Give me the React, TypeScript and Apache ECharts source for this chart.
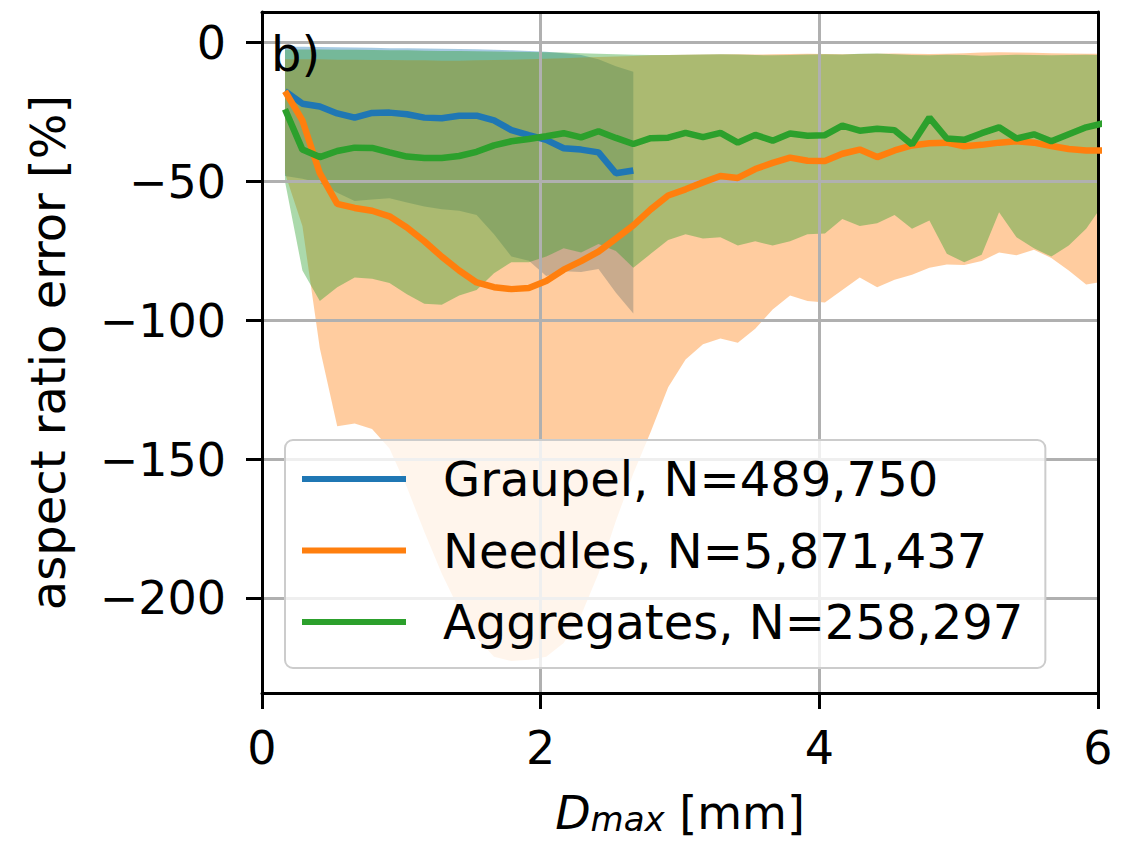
import React, { useEffect, useRef } from "react";
import * as echarts from "echarts";

// D_max bin centres [mm]
const X_MM = [
  0.165, 0.29, 0.415, 0.54, 0.665, 0.79, 0.915, 1.04, 1.165, 1.29,
  1.415, 1.54, 1.665, 1.79, 1.915, 2.04, 2.165, 2.29, 2.415, 2.54,
  2.665, 2.79, 2.915, 3.04, 3.165, 3.29, 3.415, 3.54, 3.665, 3.79,
  3.915, 4.04, 4.165, 4.29, 4.415, 4.54, 4.665, 4.79, 4.915, 5.04,
  5.165, 5.29, 5.415, 5.54, 5.665, 5.79, 5.915, 6.04,
];

// Graupel (first 21 bins)
const GRAUPEL_MED = [-17.5, -22, -23, -25.5, -27, -25.3, -25.2, -25.8, -27, -27.2, -26.3, -26.3, -28, -31.5, -33.3, -35, -38, -38.5, -39.5, -47, -46];
const GRAUPEL_LO = [-48, -49, -50.5, -54, -57, -56.5, -56, -57.5, -59, -60, -60.5, -62, -69, -77, -78.5, -84, -82.3, -82.5, -81.5, -90, -97.5];
const GRAUPEL_HI = [-1.5, -1.5, -1.6, -1.7, -1.8, -1.9, -2, -2, -2.1, -2.2, -2.3, -2.4, -2.6, -2.8, -3, -3.3, -3.8, -4.5, -6, -8.5, -10.5];

// Needles
const NEEDLES_MED = [-17.5, -28, -47, -58, -59.5, -60.5, -62.5, -66.5, -71.5, -77, -82, -86.3, -88, -88.7, -88.3, -85.8, -81.7, -78.6, -75.2, -70.5, -65.8, -60, -55, -52.8, -50.3, -48, -48.7, -45.5, -43.3, -41.4, -42.5, -42.6, -40, -38.5, -41.2, -38.8, -37, -36.2, -36, -37.3, -36.8, -36, -35.5, -36, -37.2, -38.3, -38.8, -38.8];
const NEEDLES_LO = [-47, -66, -110, -138, -137, -139, -146, -160, -176, -191, -204, -214, -221, -222.5, -222, -221, -216, -206, -191, -172, -155, -140, -124, -114, -108.5, -106.5, -108, -103, -96, -91, -93, -93.5, -89, -84.5, -88, -85.3, -83.5, -81, -79.8, -80, -78.6, -75.5, -76.5, -74.5, -77.5, -82, -87, -86];
const NEEDLES_HI = [-6, -6, -6, -6.2, -6.2, -6.3, -6.3, -6.4, -6.4, -6.5, -6.5, -6.4, -6.3, -6.2, -6, -5.8, -5.6, -5.4, -5.2, -5, -4.8, -4.6, -4.5, -4.4, -4.3, -4.2, -4.2, -4.3, -4.2, -4.1, -4, -4.1, -4.2, -4.1, -4, -3.9, -4, -4.1, -4, -3.8, -3.6, -3.5, -3.6, -3.7, -3.8, -3.9, -4, -4];

// Aggregates
const AGG_MED = [-24, -38.5, -41.2, -39, -37.8, -37.9, -39.5, -41, -41.5, -41.5, -40.8, -39.3, -37, -35.5, -34.7, -33.7, -32.6, -34.1, -31.9, -34.3, -36.5, -34.4, -34.2, -32.5, -34, -32.5, -36, -33.2, -35.3, -32.7, -33.5, -33.3, -29.9, -31.7, -31, -31.5, -36.7, -27, -34.5, -35, -32.6, -30.5, -34.5, -33, -35.5, -33, -30.5, -29];
const AGG_LO = [-50, -82, -93, -88, -84.5, -85, -86.5, -90.5, -94, -94.3, -91, -89, -83, -79, -79, -77, -74, -75.5, -72.5, -75, -81, -76, -71, -69, -70.5, -70, -73, -71.5, -73, -71.5, -69, -68.7, -63.5, -66, -65, -62, -67, -64, -76, -79, -76.3, -61, -70, -74, -77, -73, -67, -58];
const AGG_HI = [-2.5, -2.5, -2.5, -2.6, -2.6, -2.7, -2.8, -2.8, -2.9, -3, -3, -3.1, -3.2, -3.3, -3.4, -3.5, -3.6, -3.8, -4, -4.2, -4.4, -4.5, -4.5, -4.4, -4.3, -4.2, -4.3, -4.5, -4.6, -4.5, -4.3, -4.2, -4.3, -4, -3.9, -4.2, -4.5, -4.6, -4.4, -4.5, -4.7, -4.6, -4.4, -4.5, -4.6, -4.5, -4.4, -4.5];

const LABEL_GRAUPEL = "Graupel, N=489,750";
const LABEL_NEEDLES = "Needles, N=5,871,437";
const LABEL_AGG = "Aggregates, N=258,297";

const X_TICKS_INTERVAL = 2;
const Y_TICKS = [-200, -150, -100, -50, 0];

const C_BLUE = "#1f77b4";
const C_ORANGE = "#ff7f0e";
const C_GREEN = "#2ca02c";
const FILL_BLUE = "rgba(31,119,180,0.4)";
const FILL_ORANGE = "rgba(255,127,14,0.4)";
const FILL_GREEN = "rgba(44,160,44,0.4)";
const FONT = "DejaVu Sans";

const pts = (ys: number[]) => ys.map((y, i) => [X_MM[i], y]);

function band(id: string, fill: string, lo: number[], hi: number[]) {
  const rows = lo.map((l, i) => [X_MM[i], l, hi[i]]);
  return {
    type: "custom",
    name: id,
    data: rows,
    encode: { x: 0, y: [1, 2] },
    silent: true,
    z: 1,
    renderItem: (params: any, api: any) => {
      if (params.dataIndex !== 0) return null;
      const upper = rows.map((r) => api.coord([r[0], r[2]]));
      const lower = rows.map((r) => api.coord([r[0], r[1]])).reverse();
      const cs = params.coordSys;
      return {
        type: "polygon",
        shape: { points: upper.concat(lower) },
        style: { fill, stroke: "none" },
        clipPath: { type: "rect", shape: { x: cs.x, y: cs.y, width: cs.width, height: cs.height } },
      };
    },
  };
}

function medLine(name: string, color: string, ys: number[]) {
  return {
    type: "line",
    name,
    data: pts(ys),
    symbol: "none",
    showSymbol: false,
    clip: true,
    lineStyle: { color, width: 6.5 },
    itemStyle: { color },
    z: 4,
  };
}

export default function App() {
  const ref = useRef<HTMLDivElement>(null);
  useEffect(() => {
    const chart = echarts.init(ref.current!, null, { renderer: "svg" });
    const spine = { show: true, onZero: false, lineStyle: { color: "#000", width: 3 } };
    const option: any = {
      animation: false,
      backgroundColor: "#fff",
      title: {
        text: "b)",
        left: 266,
        top: 25,
        z: 6,
        textStyle: { fontSize: 48, fontWeight: "normal", color: "#000", fontFamily: FONT },
      },
      grid: { left: 262, top: 12, width: 836, height: 681, containLabel: false },
      legend: {
        show: true,
        orient: "vertical",
        left: 285,
        top: 440,
        data: [LABEL_GRAUPEL, LABEL_NEEDLES, LABEL_AGG],
        icon: "rect",
        itemWidth: 104,
        itemHeight: 6,
        itemGap: 23.5,
        padding: [15, 22, 22, 17],
        backgroundColor: "rgba(255,255,255,0.8)",
        borderColor: "#cccccc",
        borderWidth: 2,
        borderRadius: 8,
        selectedMode: false,
        z: 6,
        textStyle: { fontSize: 48, lineHeight: 48, color: "#000", fontFamily: FONT, padding: [0, 0, 0, 32] },
      },
      xAxis: [
        {
          type: "value",
          position: "bottom",
          min: 0,
          max: 6,
          interval: X_TICKS_INTERVAL,
          z: 3,
          axisLine: spine,
          axisTick: { show: true, length: 16, lineStyle: { color: "#000", width: 3 } },
          axisLabel: { fontSize: 46, color: "#000", margin: 32, fontFamily: FONT },
          splitLine: { show: true, lineStyle: { color: "#b0b0b0", width: 3 } },
          name: "{d|D}{s|max}{n| [mm]}",
          nameLocation: "middle",
          nameGap: 97,
          nameTextStyle: {
            color: "#000",
            fontFamily: FONT,
            fontSize: 46,
            rich: {
              d: { fontSize: 46, lineHeight: 46, fontStyle: "italic", fontFamily: FONT, color: "#000", verticalAlign: "bottom" },
              s: { fontSize: 34, lineHeight: 26, fontStyle: "italic", fontFamily: FONT, color: "#000", verticalAlign: "bottom" },
              n: { fontSize: 46, lineHeight: 46, fontFamily: FONT, color: "#000", verticalAlign: "bottom" },
            },
          },
        },
        {
          type: "value",
          position: "top",
          min: 0,
          max: 6,
          interval: X_TICKS_INTERVAL,
          z: 3,
          axisLine: spine,
          axisTick: { show: false },
          axisLabel: { show: false },
          splitLine: { show: false },
        },
      ],
      yAxis: [
        {
          type: "value",
          position: "left",
          min: -234,
          max: 11,
          splitNumber: 5,
          z: 3,
          axisLine: spine,
          axisTick: { show: true, length: 16, customValues: Y_TICKS, lineStyle: { color: "#000", width: 3 } },
          axisLabel: { fontSize: 46, color: "#000", margin: 36, fontFamily: FONT, customValues: Y_TICKS,
            formatter: (v: number) => (v < 0 ? "\u2212" + Math.abs(v) : String(v)) },
          splitLine: { show: true, lineStyle: { color: "#b0b0b0", width: 3 } },
          name: "aspect ratio error [%]",
          nameLocation: "middle",
          nameGap: 190,
          nameTextStyle: { fontSize: 48, color: "#000", fontFamily: FONT },
        },
        {
          type: "value",
          position: "right",
          min: -234,
          max: 11,
          splitNumber: 5,
          z: 3,
          axisLine: spine,
          axisTick: { show: false },
          axisLabel: { show: false },
          splitLine: { show: false },
        },
      ],
      series: [
        band("graupel_band", FILL_BLUE, GRAUPEL_LO, GRAUPEL_HI),
        band("needles_band", FILL_ORANGE, NEEDLES_LO, NEEDLES_HI),
        band("agg_band", FILL_GREEN, AGG_LO, AGG_HI),
        medLine(LABEL_GRAUPEL, C_BLUE, GRAUPEL_MED),
        medLine(LABEL_NEEDLES, C_ORANGE, NEEDLES_MED),
        medLine(LABEL_AGG, C_GREEN, AGG_MED),
      ],
    };
    chart.setOption(option);
    return () => chart.dispose();
  }, []);
  return (
    <div
      ref={ref}
      style={{ position: "fixed", left: 0, top: 0, width: 1133, height: 842, background: "#fff" }}
    />
  );
}
